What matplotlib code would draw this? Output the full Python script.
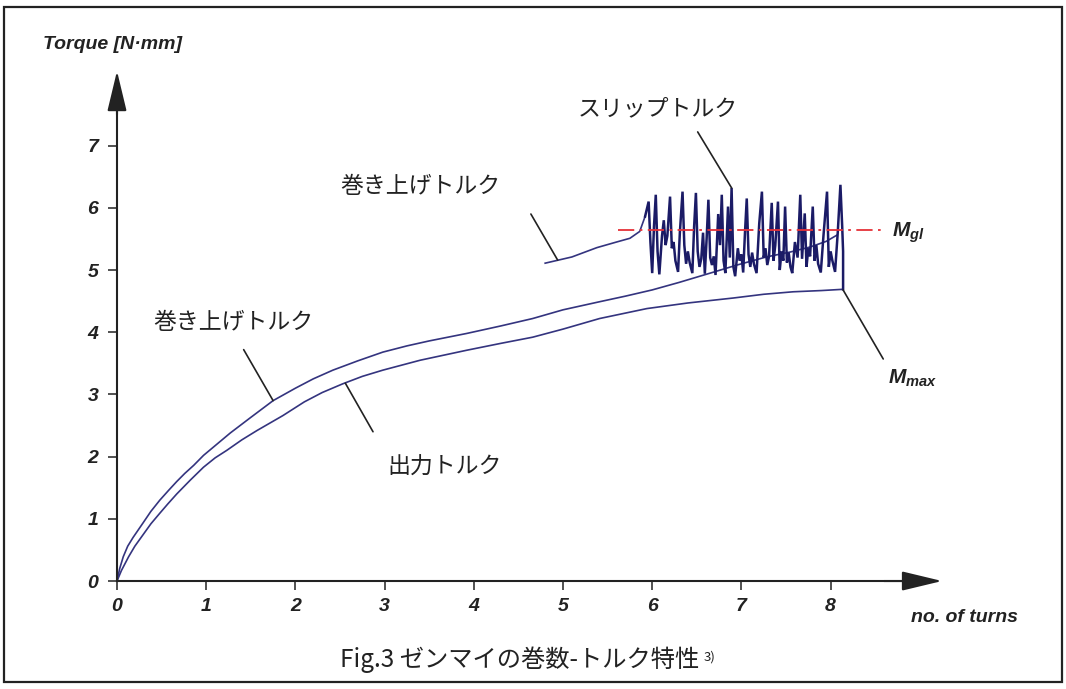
import matplotlib
matplotlib.use("Agg")
import matplotlib.pyplot as plt
from matplotlib.patches import Rectangle

# ── data (turns, torque N·mm) ──────────────────────────────────────────────
wind_t = [0, 0.03, 0.07, 0.12, 0.18, 0.29, 0.38, 0.48, 0.58, 0.67, 0.76, 0.86,
          0.97, 1.12, 1.27, 1.49, 1.75, 2.00, 2.20, 2.42, 2.70, 2.98, 3.25,
          3.50, 3.92, 4.30, 4.66, 5.00, 5.41, 5.70, 6.00, 6.30, 6.65, 6.95,
          7.28, 7.55, 7.77, 7.95, 8.07]
wind_T = [0, 0.20, 0.39, 0.56, 0.70, 0.93, 1.12, 1.30, 1.46, 1.60, 1.73, 1.86,
          2.02, 2.20, 2.38, 2.62, 2.90, 3.10, 3.25, 3.39, 3.54, 3.68, 3.78,
          3.86, 3.98, 4.10, 4.22, 4.36, 4.49, 4.58, 4.68, 4.80, 4.95, 5.08,
          5.21, 5.29, 5.37, 5.46, 5.56]

out_t = [0, 0.05, 0.13, 0.20, 0.29, 0.38, 0.48, 0.57, 0.67, 0.82, 0.97, 1.10,
         1.23, 1.40, 1.57, 1.86, 2.10, 2.30, 2.53, 2.75, 2.98, 3.40, 3.92,
         4.30, 4.66, 5.00, 5.41, 5.94, 6.40, 6.91, 7.25, 7.58, 7.90, 8.14]
out_T = [0, 0.17, 0.39, 0.56, 0.74, 0.92, 1.09, 1.24, 1.40, 1.62, 1.83, 1.98,
         2.10, 2.27, 2.42, 2.66, 2.88, 3.03, 3.17, 3.29, 3.39, 3.55, 3.71,
         3.82, 3.92, 4.05, 4.22, 4.38, 4.47, 4.55, 4.61, 4.65, 4.67, 4.69]

# winding torque just before slipping starts
pre_t = [4.80, 4.95, 5.10, 5.38, 5.60, 5.75, 5.86, 5.92]
pre_T = [5.11, 5.16, 5.21, 5.36, 5.45, 5.51, 5.62, 5.86]

# slip torque (stick-slip trace)
slip_t = [5.92, 5.96, 5.98, 6.00, 6.02, 6.04, 6.06, 6.08, 6.11, 6.13, 6.15, 6.17,
          6.20, 6.22, 6.24, 6.26, 6.29, 6.31, 6.34, 6.36, 6.38, 6.40, 6.42, 6.45,
          6.47, 6.49, 6.51, 6.53, 6.55, 6.57, 6.59, 6.61, 6.63, 6.65, 6.67, 6.69,
          6.71, 6.74, 6.76, 6.78, 6.80, 6.82, 6.85, 6.87, 6.89, 6.91, 6.93, 6.96,
          6.98, 7.00, 7.02, 7.04, 7.06, 7.08, 7.10, 7.12, 7.14, 7.17, 7.20, 7.23,
          7.25, 7.27, 7.29, 7.31, 7.34, 7.36, 7.38, 7.41, 7.43, 7.45, 7.47, 7.49,
          7.51, 7.53, 7.55, 7.57, 7.60, 7.63, 7.66, 7.68, 7.71, 7.73, 7.75, 7.77,
          7.80, 7.82, 7.84, 7.86, 7.89, 7.92, 7.96, 7.98, 8.00, 8.02, 8.05, 8.08,
          8.11, 8.13, 8.14, 8.14]
slip_T = [5.86, 6.10, 5.45, 4.95, 5.70, 6.21, 5.30, 4.93, 5.55, 5.80, 5.40, 5.55,
          6.18, 5.35, 5.45, 5.15, 4.97, 5.60, 6.26, 5.40, 5.10, 5.30, 5.12, 4.95,
          5.70, 6.24, 5.30, 5.05, 5.18, 5.60, 4.94, 5.50, 6.13, 5.20, 5.08, 5.22,
          4.92, 5.90, 5.40, 6.21, 5.15, 4.95, 6.02, 5.20, 6.32, 5.05, 4.90, 5.35,
          5.15, 5.25, 4.96, 5.60, 6.15, 5.25, 5.05, 5.28, 5.10, 4.95, 5.75, 6.26,
          5.20, 5.35, 5.08, 5.22, 6.08, 5.15, 5.40, 6.10, 5.00, 5.30, 5.15, 6.02,
          5.12, 5.28, 5.05, 4.95, 5.45, 5.20, 6.21, 5.18, 5.91, 5.05, 5.35, 5.22,
          6.02, 5.15, 5.40, 5.10, 4.96, 5.55, 6.26, 5.05, 5.30, 5.15, 4.97, 5.60,
          6.37, 5.70, 5.30, 4.69]

M_gl = 5.65
x_ticks = [0, 1, 2, 3, 4, 5, 6, 7, 8]
y_ticks = [0, 1, 2, 3, 4, 5, 6, 7]

plt.rcParams["font.family"] = ["Liberation Sans", "Noto Sans CJK JP"]
plt.rcParams["mathtext.fontset"] = "custom"
plt.rcParams["mathtext.it"] = "Liberation Sans:italic:bold"
plt.rcParams["mathtext.rm"] = "Liberation Sans:bold"

INK = "#222222"
NAVY = "#34347f"
NAVY_DK = "#1b1b66"
JP = ["Noto Sans CJK JP", "DejaVu Sans"]
TICKFONT = dict(family="Liberation Sans", weight="bold", style="italic", size=14)

fig = plt.figure(figsize=(10.66, 6.89), dpi=100)
ax = fig.add_axes([0, 0, 1, 1])
ax.set_xlim(-1.3117, 10.639)
ax.set_ylim(-1.736, 9.341)
ax.patch.set_alpha(0)

# outer frame
fig.patches.append(Rectangle((4 / 1066, 7 / 689), 1058 / 1066, 675 / 689,
                             transform=fig.transFigure, fill=False,
                             lw=1.6, edgecolor=INK))

# ── axes with arrow heads ───────────────────────────────────────────────────
for side in ("top", "right"):
    ax.spines[side].set_visible(False)
for side in ("left", "bottom"):
    ax.spines[side].set_position(("data", 0))
    ax.spines[side].set_linewidth(1.5)
    ax.spines[side].set_color(INK)
ax.spines["left"].set_bounds(0, 7.8)
ax.spines["bottom"].set_bounds(0, 8.95)
arrow = dict(arrowstyle="-|>,head_length=2.5,head_width=0.6", mutation_scale=10,
             color=INK, lw=1.5, shrinkA=0, shrinkB=0)
ax.annotate("", xy=(0, 8.2), xytext=(0, 7.5), arrowprops=arrow)
ax.annotate("", xy=(9.25, 0), xytext=(8.6, 0), arrowprops=arrow)

ax.set_xticks(x_ticks)
ax.set_yticks(y_ticks)
ax.set_xticklabels([str(v) for v in x_ticks], fontdict=TICKFONT, color=INK)
ax.set_yticklabels([str(v) for v in y_ticks], fontdict=TICKFONT, color=INK)
ax.tick_params(axis="both", direction="out", length=6.5, width=1.1, color=INK)
ax.tick_params(axis="y", pad=7)
ax.tick_params(axis="x", pad=6)

ax.text(-0.83, 8.62, "Torque [N·mm]", ha="left", va="center", color=INK,
        family="Liberation Sans", weight="bold", style="italic", size=14)
ax.text(8.90, -0.58, "no. of turns", ha="left", va="center", color=INK,
        family="Liberation Sans", weight="bold", style="italic", size=14)

# ── curves ─────────────────────────────────────────────────────────────────
ax.plot(wind_t, wind_T, color=NAVY, lw=1.2, solid_joinstyle="round")
ax.plot(out_t, out_T, color=NAVY, lw=1.2, solid_joinstyle="round")
ax.plot(pre_t, pre_T, color=NAVY, lw=1.2, solid_joinstyle="round")
ax.plot(slip_t, slip_T, color=NAVY_DK, lw=1.8, solid_joinstyle="miter")
ax.plot([5.62, 8.58], [M_gl, M_gl], color="#e53238", lw=1.3,
        linestyle=(0, (9, 3, 1.5, 3)))

# ── leader lines + labels ──────────────────────────────────────────────────
lead = dict(arrowstyle="-", color=INK, lw=1.2, shrinkA=0, shrinkB=0)
ax.annotate("", xy=(4.94, 5.16), xytext=(4.64, 5.90), arrowprops=lead)
ax.annotate("", xy=(1.75, 2.90), xytext=(1.42, 3.72), arrowprops=lead)
ax.annotate("", xy=(2.56, 3.18), xytext=(2.87, 2.40), arrowprops=lead)
ax.annotate("", xy=(6.89, 6.32), xytext=(6.51, 7.22), arrowprops=lead)
ax.annotate("", xy=(8.14, 4.68), xytext=(8.59, 3.57), arrowprops=lead)

ax.text(2.50, 6.35, "巻き上げトルク", family=JP, size=16.5, color=INK,
        ha="left", va="center")
ax.text(5.16, 7.60, "スリップトルク", family=JP, size=16.5, color=INK,
        ha="left", va="center")
ax.text(0.41, 4.15, "巻き上げトルク", family=JP, size=16.5, color=INK,
        ha="left", va="center")
ax.text(3.03, 1.83, "出力トルク", family=JP, size=16.5, color=INK,
        ha="left", va="center")
ax.text(8.69, 5.60, r"$M_{gl}$", size=15, color=INK, ha="left", va="center")
ax.text(8.64, 3.26, r"$M_{max}$", size=15, color=INK, ha="left", va="center")

cap = fig.text(340 / 1066, 1 - 660 / 689, "Fig.3 ゼンマイの巻数-トルク特性",
               family=JP, size=17.5, color=INK, ha="left", va="center")
ax.annotate("3)", xy=(1, 0.62), xycoords=cap, xytext=(3, 0),
            textcoords="offset points", family=JP, size=9.5, color=INK,
            ha="left", va="center")

fig.savefig("out.png", dpi=100)
